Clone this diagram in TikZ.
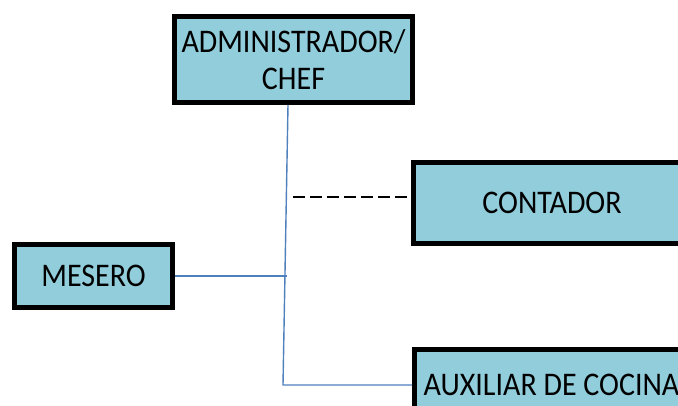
\documentclass[tikz,border=0pt]{standalone}
\usepackage{fontspec}
\setmainfont{Carlito}
\usepackage{graphicx}
\definecolor{boxfill}{HTML}{92CDDC}
\definecolor{linkblue}{HTML}{4F81BD}
\newcommand{\tl}[1]{\scalebox{1}[1.1]{#1}}
\begin{document}
\begin{tikzpicture}[x=1pt,y=-1pt,
  orgbox/.style={draw=black,line width=5pt,fill=boxfill,inner sep=0pt,
    font=\fontsize{30}{37}\selectfont,align=center},
  link/.style={draw=linkblue,line width=1.4pt},
  dotlink/.style={draw=black,line width=1.4pt,dash pattern=on 12pt off 5pt}]
\useasboundingbox (0,0) rectangle (678,406);
\clip (0,0) rectangle (678,406);
\fill[white] (0,0) rectangle (678,406);
\node[orgbox,minimum width=238pt,minimum height=86pt] (admin) at (293.5,59.5) {\tl{ADMINISTRADOR/}\\\tl{CHEF}};
\node[orgbox,minimum width=158pt,minimum height=63pt] (mesero) at (93.5,276) {\tl{MESERO}};
\node[orgbox,minimum width=277pt,minimum height=81pt] (contador) at (552,203) {\tl{CONTADOR}};
\node[orgbox,minimum width=274pt,minimum height=70pt] (aux) at (551.5,385) {\tl{AUXILIAR DE COCINA}};
\coordinate (ttop) at (288,105);
\coordinate (tbot) at (283,385);
\coordinate (tmid) at (287,276);
\coordinate (dstart) at (293,197);
\draw[link] (ttop) -- (tbot) -- (aux.west);
\draw[link] (mesero.east) -- (tmid);
\draw[dotlink] (dstart) -- (dstart -| contador.west);
\end{tikzpicture}
\end{document}
